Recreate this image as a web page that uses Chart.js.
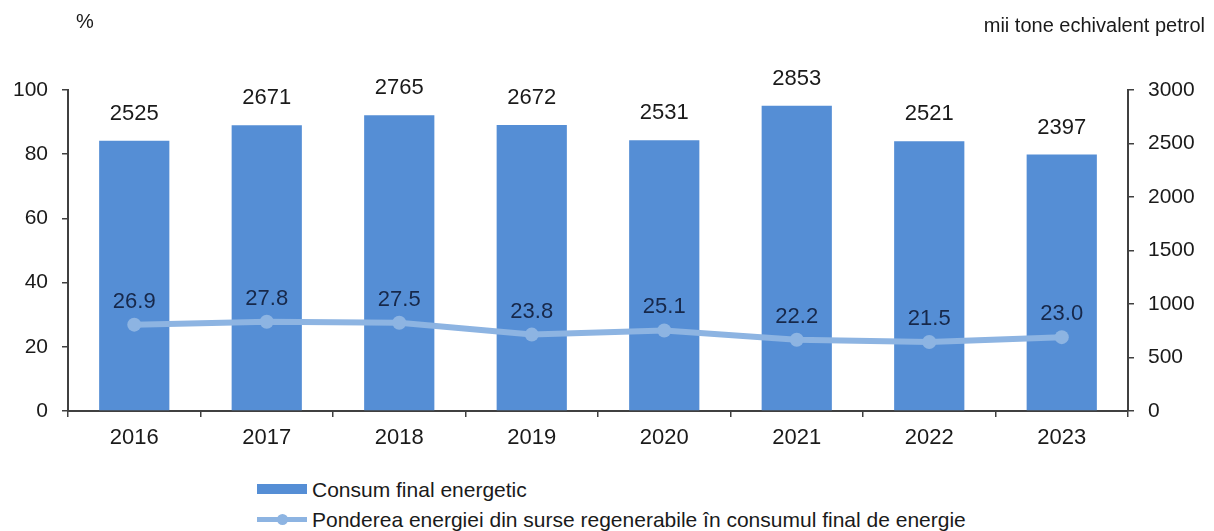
<!DOCTYPE html>
<html lang="ro">
<head>
<meta charset="utf-8">
<title>Consum final energetic</title>
<script src="https://cdn.jsdelivr.net/npm/chart.js@4.4.1/dist/chart.umd.min.js"></script>
<style>
  html, body { margin: 0; padding: 0; background: #fff; }
  body { width: 1214px; height: 531px; position: relative; overflow: hidden; font-family: "Liberation Sans", Arial, sans-serif; }
  .wrap { position: absolute; left: 0; top: 0; width: 1214px; height: 462px; }
  .legend { position: absolute; left: 257px; top: 474px; color: #1a1a1a; font-size: 21px; line-height: 23px; }
  .legend .item { display: flex; align-items: center; height: 30px; }
  .legend .swatch { width: 50px; height: 10px; margin-right: 5px; position: relative; }
  .legend .swatch.line { height: 5px; }
  .legend .swatch.line i { position: absolute; left: 20px; top: -3px; width: 11px; height: 11px; border-radius: 50%; }
</style>
</head>
<body>
<div class="wrap"><canvas id="chart"></canvas></div>
<div class="legend" id="legend"></div>
<script>
const years    = ['2016', '2017', '2018', '2019', '2020', '2021', '2022', '2023'];
const consum   = [2525, 2671, 2765, 2672, 2531, 2853, 2521, 2397];   // mii tone echivalent petrol
const ponderea = [26.9, 27.8, 27.5, 23.8, 25.1, 22.2, 21.5, 23.0];   // %

const barBlue  = '#558ed5';
const lineBlue = '#8db4e2';
const axisCol  = '#404040';
const txtCol   = '#1a1a1a';
const font     = '"Liberation Sans", Arial, sans-serif';

/* ─── value labels + axis captions ─────────────────────────────────────── */

const valueLabels = {
    id: 'valueLabels',
    afterDatasetsDraw(chart) {
        const ctx = chart.ctx;
        ctx.save();
        ctx.textAlign = 'center';
        ctx.textBaseline = 'middle';
        ctx.font = `22px ${font}`;
        chart.data.datasets.forEach((ds, i) => {
            const isBar = ds.type === 'bar';
            chart.getDatasetMeta(i).data.forEach((el, j) => {
                const v = ds.data[j];
                ctx.fillStyle = isBar ? txtCol : '#17284a';
                ctx.fillText(isBar ? String(v) : v.toFixed(1), el.x, el.y - (isBar ? 27 : 23));
            });
        });

        ctx.fillStyle = txtCol;
        ctx.font = `20px ${font}`;
        ctx.fillText('%', chart.scales.y.right + 17, 22);
        ctx.textAlign = 'right';
        ctx.fillText('mii tone echivalent petrol', chart.width - 9, 26);
        ctx.restore();
    }
};

/* ─── chart ────────────────────────────────────────────────────────────── */

const chart = new Chart(document.getElementById('chart'), {
    data: {
        labels: years,
        datasets: [
            {
                type: 'line', label: 'Ponderea energiei din surse regenerabile în consumul final de energie',
                data: ponderea, yAxisID: 'y', order: 0,
                borderColor: lineBlue, backgroundColor: lineBlue, borderWidth: 6, tension: 0,
                pointRadius: 7, pointHoverRadius: 7, pointBackgroundColor: lineBlue, pointBorderWidth: 0
            },
            {
                type: 'bar', label: 'Consum final energetic',
                data: consum, yAxisID: 'y1', order: 1,
                backgroundColor: barBlue, categoryPercentage: 1, barPercentage: 0.53
            }
        ]
    },
    options: {
        responsive: true,
        maintainAspectRatio: false,
        animation: false,
        layout: { padding: { top: 90, left: 0, right: 0, bottom: 0 } },
        plugins: { legend: { display: false }, tooltip: { enabled: false } },
        scales: {
            x: {
                afterFit: s => { s.height = 51; },
                grid: { display: true, drawOnChartArea: false, tickLength: 6, color: axisCol, lineWidth: 1.5, offset: true },
                border: { color: axisCol, width: 2 },
                ticks: { color: txtCol, font: { family: font, size: 22 }, padding: 8 }
            },
            y: {
                position: 'left', min: 0, max: 100,
                afterFit: s => { s.width = 68; },
                grid: { drawOnChartArea: false, tickLength: 6, color: axisCol, lineWidth: 1.5 },
                border: { color: axisCol, width: 2 },
                ticks: { stepSize: 20, color: txtCol, font: { family: font, size: 21 }, padding: 14 }
            },
            y1: {
                position: 'right', min: 0, max: 3000,
                afterFit: s => { s.width = 86; },
                grid: { drawOnChartArea: false, tickLength: 6, color: axisCol, lineWidth: 1.5 },
                border: { color: axisCol, width: 2 },
                ticks: { stepSize: 500, color: txtCol, font: { family: font, size: 21 }, padding: 14, callback: v => String(v) }
            }
        }
    },
    plugins: [valueLabels]
});

/* ─── legend (bars first, stacked) ─────────────────────────────────────── */

const legendEl = document.getElementById('legend');
[1, 0].forEach(i => {
    const ds = chart.data.datasets[i];
    const row = document.createElement('div');
    row.className = 'item';
    const sw = document.createElement('span');
    if (ds.type === 'line') {
        sw.className = 'swatch line';
        sw.style.background = ds.borderColor;
        const dot = document.createElement('i');
        dot.style.background = ds.borderColor;
        sw.appendChild(dot);
    } else {
        sw.className = 'swatch';
        sw.style.background = ds.backgroundColor;
    }
    const lab = document.createElement('span');
    lab.textContent = ds.label;
    row.appendChild(sw);
    row.appendChild(lab);
    legendEl.appendChild(row);
});
</script>
</body>
</html>
